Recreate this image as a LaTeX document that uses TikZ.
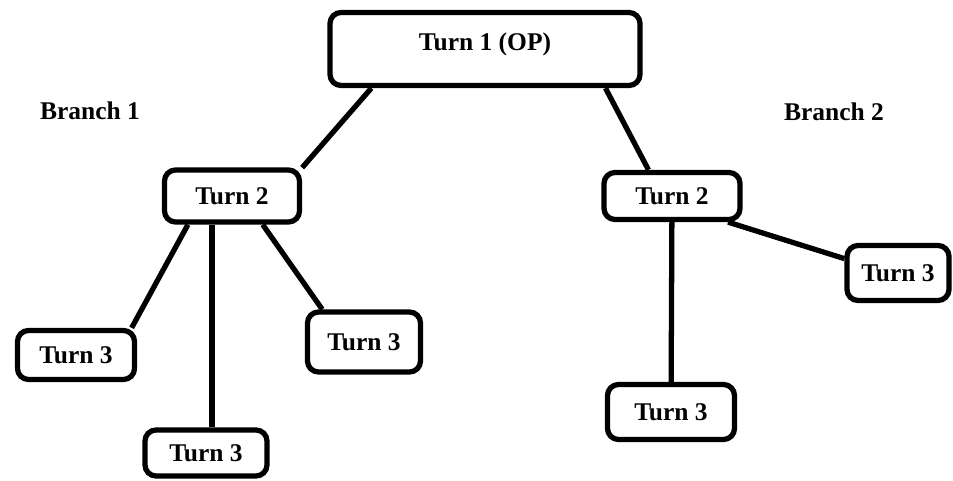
\documentclass[tikz,border=0pt]{standalone}
\usepackage{fontspec}
\setmainfont{Liberation Serif}
\tikzset{
  turn/.style={draw, line width=3pt, rounded corners=0.22cm, fill=white,
    inner sep=0pt, font=\bfseries\fontsize{14.5}{17}\selectfont},
  branch/.style={font=\bfseries\fontsize{14.5}{17}\selectfont},
  link/.style={line width=3pt}
}
\begin{document}
\begin{tikzpicture}
  \useasboundingbox (0,0) rectangle (19.06,9.62);
  \node[turn, minimum width=6.2cm, minimum height=1.46cm, text depth=0.3cm] (top) at (9.70,8.64) {Turn 1 (OP)};
  \node[turn, minimum width=2.70cm, minimum height=1.04cm] (t2l) at (4.64,5.70) {Turn 2};
  \node[turn, minimum width=2.72cm, minimum height=0.94cm] (t2r) at (13.44,5.70) {Turn 2};
  \foreach \n/\x/\y/\w/\h in {
    t3a/1.52/2.52/2.34/0.98, t3b/4.12/0.56/2.44/0.92, t3c/7.28/2.78/2.26/1.20,
    t3d/17.96/4.16/2.04/1.10, t3e/13.42/1.38/2.54/1.10
  } {
    \node[turn, minimum width=\w cm, minimum height=\h cm] (\n) at (\x,\y) {Turn 3};
  }
  \node[branch] (b1) at (1.80,7.40) {Branch 1};
  \node[branch] (b2) at (16.68,7.38) {Branch 2};
  \foreach \a/\b in {top.199/t2l.22, top.342/t2r.132, t2l.213/t3a.26,
    t2l.317/t3c.142, t2r.335/t3d.165} {
    \draw[link] (\a) -- (\b);
  }
  \draw[link] (t2l.235) -- (t2l.235 |- t3b.north);
  \draw[link] (t2r) -- (t3e);
\end{tikzpicture}
\end{document}
